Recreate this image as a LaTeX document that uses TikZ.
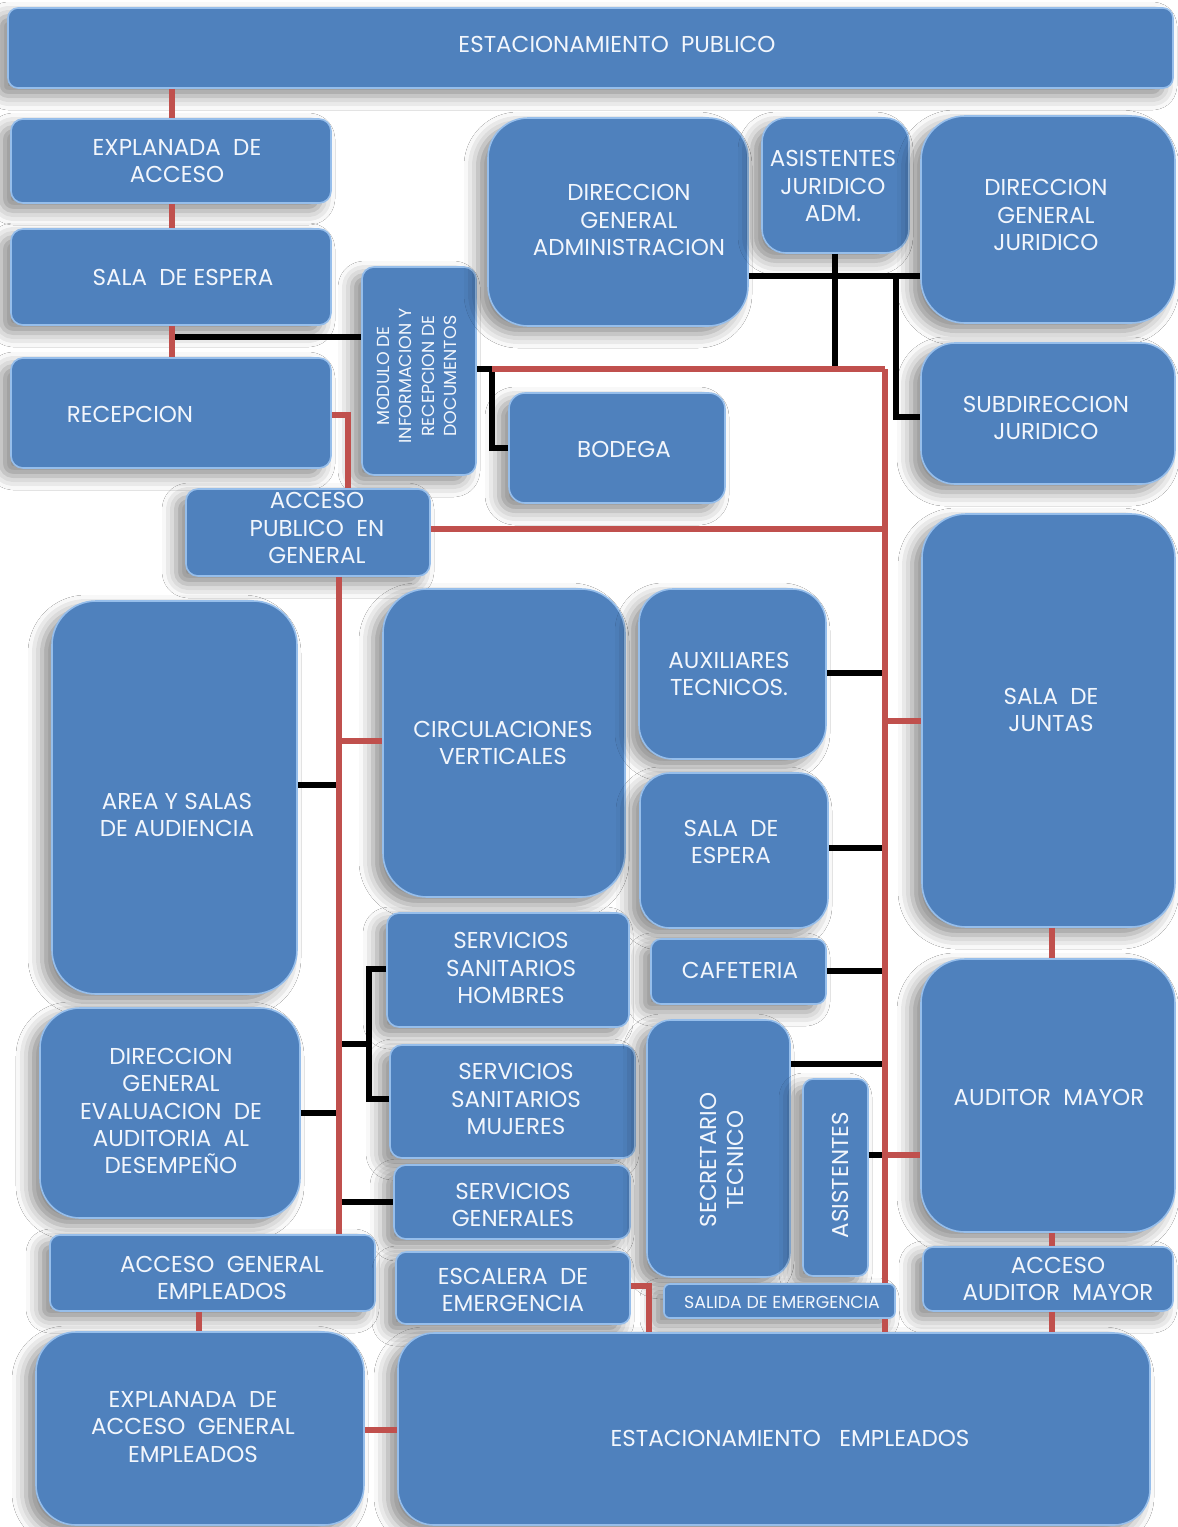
\documentclass[tikz,border=0pt]{standalone}
\usepackage{fontspec}
\setmainfont{Poppins}
\usetikzlibrary{fit,shadows.blur}
\definecolor{boxblue}{RGB}{79,129,189}
\definecolor{boxedge}{RGB}{150,190,235}
\definecolor{conred}{RGB}{192,80,77}
\definecolor{txtc}{RGB}{242,246,252}
\tikzset{
  box/.style={fill=boxblue, draw=boxedge, line width=0.8pt, inner sep=0pt,
    blur shadow={shadow xshift=-5pt, shadow yshift=-4pt, shadow blur radius=7pt, shadow opacity=45}},
  lbl/.style={text=txtc, align=center, font=\fontsize{11.5}{13.7}\selectfont, inner sep=0pt},
  smalllbl/.style={lbl, font=\fontsize{8.7}{11.2}\selectfont},
  rl/.style={draw=conred, line width=2.7pt},
  bl/.style={draw=black, line width=2.6pt},
}
\newcommand\bx[7][]{\node[box,rounded corners=#7,fit={(#3,#4) (#5,#6)},#1] (#2) {};}
\begin{document}
\begin{tikzpicture}[x=0.5pt,y=-0.5pt]
\useasboundingbox[fill=white] (0,0) rectangle (1178,1527);
% boxes
\bx{pub}{8}{8}{1173}{88}{5pt}
\bx{exp}{11}{119}{331}{203}{6pt}
\bx{sal1}{11}{229}{331}{325}{6pt}
\bx{rec}{11}{358}{331}{468}{6pt}
\bx{mod}{362}{267}{476}{475}{6pt}
\bx{dga}{488}{118}{748}{326}{20pt}
\bx{asj}{762}{118}{909}{253}{12pt}
\bx{dgj}{921}{116}{1175}{323}{22pt}
\bx{sub}{921}{343}{1175}{484}{17pt}
\bx{bod}{509}{393}{725}{503}{8pt}
\bx{acc}{186}{489}{430}{576}{6pt}
\bx{jun}{922}{514}{1175}{927}{22pt}
\bx{area}{52}{601}{297}{994}{22pt}
\bx{circ}{383}{589}{625}{897}{22pt}
\bx{aux}{639}{589}{826}{759}{17pt}
\bx{sal2}{640}{773}{828}{928}{15pt}
\bx{caf}{651}{939}{826}{1004}{5pt}
\bx{ssh}{387}{913}{629}{1027}{6pt}
\bx{dge}{40}{1008}{300}{1218}{20pt}
\bx{ssm}{390}{1045}{635}{1158}{6pt}
\bx{ssg}{394}{1165}{630}{1239}{6pt}
\bx{sec}{647}{1020}{790}{1277}{12pt}
\bx{asis}{803}{1079}{868}{1276}{5pt}
\bx{aud}{921}{959}{1175}{1232}{22pt}
\bx{age}{50}{1235}{375}{1311}{5pt}
\bx{esc}{396}{1252}{630}{1324}{5pt}
\bx{sali}{664}{1284}{895}{1318}{3pt}
\bx{accaud}{923}{1247}{1173}{1311}{5pt}
\bx{exple}{36}{1332}{364}{1525}{20pt}
\bx{este}{398}{1333}{1150}{1525}{18pt}
% labels
\node[lbl] (pub-t) at (617,44) {ESTACIONAMIENTO\ \ PUBLICO};
\node[lbl] (exp-t) at (177,161) {EXPLANADA\ \ DE\\ACCESO};
\node[lbl] (sal1-t) at (183,277) {SALA\ \ DE ESPERA};
\node[lbl] (rec-t) at (130,414) {RECEPCION};
\node[smalllbl, rotate=90] (mod-t) at (417,376) {MODULO DE\\INFORMACION Y\\RECEPCION DE\\DOCUMENTOS};
\node[lbl] (dga-t) at (629,220) {DIRECCION\\GENERAL\\ADMINISTRACION};
\node[lbl] (asj-t) at (833,186) {ASISTENTES\\JURIDICO\\ADM.};
\node[lbl] (dgj-t) at (1046,215) {DIRECCION\\GENERAL\\JURIDICO};
\node[lbl] (sub-t) at (1046,418) {SUBDIRECCION\\JURIDICO};
\node[lbl] (bod-t) at (624,449) {BODEGA};
\node[lbl] (acc-t) at (317,528) {ACCESO\\PUBLICO\ \ EN\\GENERAL};
\node[lbl] (jun-t) at (1051,710) {SALA\ \ DE\\JUNTAS};
\node[lbl] (area-t) at (177,815) {AREA\ Y\ SALAS\\DE AUDIENCIA};
\node[lbl] (circ-t) at (503,743) {CIRCULACIONES\\VERTICALES};
\node[lbl] (aux-t) at (729,674) {AUXILIARES\\TECNICOS.};
\node[lbl] (sal2-t) at (731,842) {SALA\ \ DE\\ESPERA};
\node[lbl] (caf-t) at (740,970) {CAFETERIA};
\node[lbl] (ssh-t) at (511,968) {SERVICIOS\\SANITARIOS\\HOMBRES};
\node[lbl] (dge-t) at (171,1111) {DIRECCION\\GENERAL\\EVALUACION\ \ DE\\AUDITORIA\ \ AL\\DESEMPEÑO};
\node[lbl] (ssm-t) at (516,1099) {SERVICIOS\\SANITARIOS\\MUJERES};
\node[lbl] (ssg-t) at (513,1205) {SERVICIOS\\GENERALES};
\node[lbl, rotate=90] (sec-t) at (722,1160) {SECRETARIO\\TECNICO};
\node[lbl, rotate=90] (asis-t) at (840,1175) {ASISTENTES};
\node[lbl] (aud-t) at (1049,1097) {AUDITOR\ \ MAYOR};
\node[lbl] (age-t) at (222,1278) {ACCESO\ \ GENERAL\\EMPLEADOS};
\node[lbl] (esc-t) at (513,1290) {ESCALERA\ \ DE\\EMERGENCIA};
\node[smalllbl] (sali-t) at (782,1302) {SALIDA DE EMERGENCIA};
\node[lbl] (accaud-t) at (1058,1279) {ACCESO\\AUDITOR\ \ MAYOR};
\node[lbl] (exple-t) at (193,1427) {EXPLANADA\ \ DE\\ACCESO\ \ GENERAL\\EMPLEADOS};
\node[lbl] (este-t) at (790,1438) {ESTACIONAMIENTO\ \ \ EMPLEADOS};
% junction coordinates
\coordinate (jM) at (492,369);
\coordinate (jR) at (885,369);
\coordinate (tL) at (339,0);
\coordinate (tR) at (885,0);
\coordinate (tA) at (172,0);
\coordinate (tJ) at (1052,0);
\coordinate (tW) at (369,0);
\coordinate (tJU) at (896,276);
% black connectors
\draw[bl] (tA |- 0,337) -- (mod.west |- 0,337);
\draw[bl] (mod.east |- jM) -- (jM) |- (bod.west |- 0,448);
\draw[bl] (dga.east |- 0,276) -- (dgj.west |- 0,276);
\draw[bl] (asj.south -| 835,0) -- (835,369);
\draw[bl] (tJU) |- (sub.west |- 0,417);
\draw[bl] (area.east |- 0,785) -- (tL |- 0,785);
\draw[bl] (aux.east |- 0,673) -- (tR |- 0,673);
\draw[bl] (sal2.east |- 0,848) -- (tR |- 0,848);
\draw[bl] (caf.east |- 0,971) -- (tR |- 0,971);
\draw[bl] (ssh.west |- 0,969) -- (tW |- 0,969) |- (ssm.west |- 0,1099);
\draw[bl] (tL |- 0,1044) -- (tW |- 0,1044);
\draw[bl] (dge.east |- 0,1113) -- (tL |- 0,1113);
\draw[bl] (tL |- 0,1202) -- (ssg.west |- 0,1202);
\draw[bl] (sec.east |- 0,1064) -- (tR |- 0,1064);
\draw[bl] (asis.east |- 0,1155) -- (tR |- 0,1155);
% red connectors
\draw[rl] (pub.south -| tA) -- (exp.north -| tA);
\draw[rl] (exp.south -| tA) -- (sal1.north -| tA);
\draw[rl] (sal1.south -| tA) -- (rec.north -| tA);
\draw[rl] (rec.east |- 0,415) -| (acc.north -| 348,0);
\draw[rl] (jM) -- (jR);
\draw[rl] (jR) -- (sali.north -| jR);
\draw[rl] (sali.south -| jR) -- (este.north -| jR);
\draw[rl] (acc.east |- 0,529) -- (tR |- 0,529);
\draw[rl] (acc.south -| tL) -- (age.north -| tL);
\draw[rl] (tL |- 0,741) -- (circ.west |- 0,741);
\draw[rl] (tR |- 0,721) -- (jun.west |- 0,721);
\draw[rl] (tR |- 0,1155) -- (aud.west |- 0,1155);
\draw[rl] (jun.south -| tJ) -- (aud.north -| tJ);
\draw[rl] (aud.south -| tJ) -- (accaud.north -| tJ);
\draw[rl] (accaud.south -| tJ) -- (este.north -| tJ);
\draw[rl] (age.south -| 199,0) -- (exple.north -| 199,0);
\draw[rl] (exple.east |- 0,1430) -- (este.west |- 0,1430);
\draw[rl] (esc.east |- 0,1286) -| (este.north -| 649,0);
\end{tikzpicture}
\end{document}
